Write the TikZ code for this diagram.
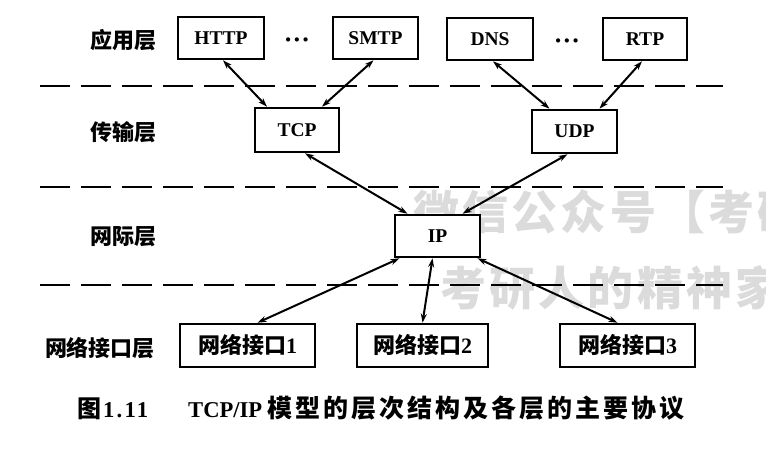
\documentclass[tikz,border=0pt]{standalone}
\usepackage{fontspec}
\setmainfont{Liberation Serif}
\newfontfamily\cjk{Noto Sans CJK SC}
\usetikzlibrary{arrows.meta}
\begin{document}
\begin{tikzpicture}[x=1pt,y=-1pt,
  box/.style={draw, line width=2.6pt, fill=white, inner sep=0pt, minimum height=42pt,
    font=\fontsize{19.5}{20}\selectfont\bfseries},
  nibox/.style={box, minimum height=43pt, font=\fontsize{22}{22}\selectfont\bfseries},
  lab/.style={inner sep=0pt, font=\fontsize{22}{22}\selectfont\cjk\bfseries},
  dotsnode/.style={inner sep=0pt, font=\fontsize{26}{26}\selectfont\bfseries},
  conn/.style={line width=2pt, {Stealth[length=9pt,width=6pt]}-{Stealth[length=9pt,width=6pt]}},
  sep/.style={line width=2.2pt, dash pattern=on 30pt off 11pt},
  wm/.style={text=black!14, inner sep=0pt, anchor=west,
    font=\fontsize{46}{46}\selectfont\cjk\bfseries\addfontfeature{LetterSpace=7}}
]
\useasboundingbox[fill=white] (0,0) rectangle (766,460);
\begin{scope}
\clip (0,0) rectangle (766,460);
% watermark
\node[wm] (wm1) at (413,212) {微信公众号【考研};
\node[wm] (wm2) at (440,288) {考研人的精神家};
\end{scope}
% layer separators
\draw[sep] (40,86) -- (723,86);
\draw[sep] (40,187) -- (723,187);
\draw[sep] (40,285) -- (723,285);
% layer labels
\node[lab] (l1) at (123,40) {应用层};
\node[lab] (l2) at (123,132) {传输层};
\node[lab] (l3) at (123,237) {网际层};
\node[lab] (l4) at (100,348) {网络接口层};
% application layer
\node[box, minimum width=86pt] (http) at (221,38) {HTTP};
\node[dotsnode] (d1) at (297,43) {···};
\node[box, minimum width=85pt] (smtp) at (375.5,38) {SMTP};
\node[box, minimum width=86pt] (dns) at (490,39) {DNS};
\node[dotsnode] (d2) at (567,44) {···};
\node[box, minimum width=84pt] (rtp) at (645,39) {RTP};
% transport layer
\node[box, minimum width=84pt, minimum height=44pt] (tcp) at (297,130) {TCP};
\node[box, minimum width=85pt, minimum height=43pt] (udp) at (574.5,131.5) {UDP};
% internet layer
\node[box, minimum width=85pt] (ip) at (437.5,236) {IP};
% network interface layer
\node[nibox, minimum width=135pt] (ni1) at (247.5,345.5) {{\cjk\bfseries 网络接口}1};
\node[nibox, minimum width=131pt] (ni2) at (422.5,345.5) {{\cjk\bfseries 网络接口}2};
\node[nibox, minimum width=135pt] (ni3) at (627.5,345.5) {{\cjk\bfseries 网络接口}3};
% connectors
\draw[conn] ([xshift=2pt]http.south) -- ([xshift=-30pt]tcp.north);
\draw[conn] ([xshift=-2pt]smtp.south) -- ([xshift=25pt]tcp.north);
\draw[conn] ([xshift=3pt]dns.south) -- ([xshift=-25pt]udp.north);
\draw[conn] ([xshift=-3pt]rtp.south) -- ([xshift=25pt]udp.north);
\draw[conn] ([xshift=8pt]tcp.south) -- ([xshift=-30pt]ip.north);
\draw[conn] ([xshift=-7pt]udp.south) -- ([xshift=25pt]ip.north);
\draw[conn] ([xshift=-38pt]ip.south) -- ([xshift=10pt]ni1.north);
\draw[conn] ([xshift=-5pt]ip.south) -- (ni2.north);
\draw[conn] ([xshift=40pt]ip.south) -- ([xshift=-10pt]ni3.north);
% caption
\node[anchor=west, inner sep=0pt, font=\fontsize{22.6}{23}\selectfont\bfseries] (cap) at (77,408)
  {\makebox[26pt][l]{\cjk\bfseries\fontsize{24}{24}\selectfont 图}\makebox[85pt][l]{\addfontfeature{LetterSpace=10}1.11}\makebox[79pt][l]{TCP/IP}{\cjk\bfseries\fontsize{25}{25}\selectfont\addfontfeature{LetterSpace=12}模型的层次结构及各层的主要协议}};
\end{tikzpicture}
\end{document}
